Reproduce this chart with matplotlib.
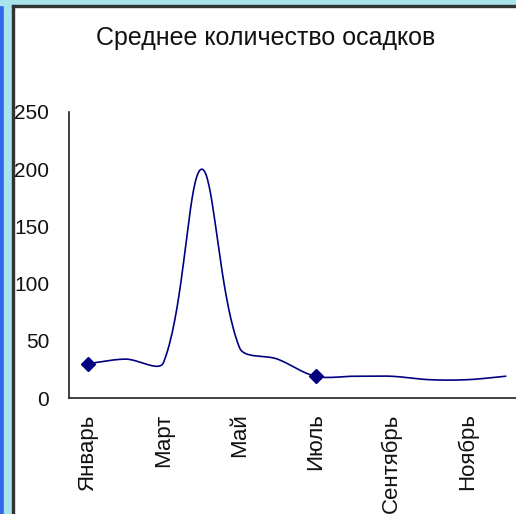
import numpy as np
import matplotlib.pyplot as plt
from matplotlib.patches import Rectangle

plt.rcParams['font.family'] = ['Liberation Sans', 'DejaVu Sans']

months = ['Январь', 'Февраль', 'Март', 'Апрель', 'Май', 'Июнь',
          'Июль', 'Август', 'Сентябрь', 'Октябрь', 'Ноябрь', 'Декабрь']
precip = [30, 34, 31, 200, 44, 34, 19, 19, 19, 16, 16, 19]
marked = [0, 6]  # Январь, Июль

W, H = 516, 514


def smooth_line(ax, xs, ys, n=40):
    # excel-like bezier smoothing, done in pixel space
    pts = ax.transData.transform(np.column_stack([xs, ys]))
    out = [pts[0]]
    for i in range(len(pts) - 1):
        p0 = pts[i - 1] if i > 0 else pts[i]
        p1, p2 = pts[i], pts[i + 1]
        p3 = pts[i + 2] if i + 2 < len(pts) else pts[i + 1]
        d01 = np.hypot(*(p1 - p0))
        d12 = np.hypot(*(p2 - p1))
        d23 = np.hypot(*(p3 - p2))
        c1 = p1 + (p2 - p0) * d12 / (d01 + d12) / 3
        c2 = p2 - (p3 - p1) * d12 / (d12 + d23) / 3
        t = np.linspace(0, 1, n)[1:, None]
        seg = ((1 - t) ** 3 * p1 + 3 * (1 - t) ** 2 * t * c1
               + 3 * (1 - t) * t ** 2 * c2 + t ** 3 * p2)
        out.extend(seg)
    out = ax.transData.inverted().transform(np.array(out))
    return out[:, 0], out[:, 1]


fig = plt.figure(figsize=(W / 100, H / 100), dpi=100)
fig.patch.set_facecolor('white')

# slide frame bits on the left and top
fig.patches.append(Rectangle((0, 0), 4 / W, 1, transform=fig.transFigure, color='#3566ee', zorder=0))
fig.patches.append(Rectangle((4 / W, 0), 8 / W, 1, transform=fig.transFigure, color='#a9e3ec', zorder=0))
fig.patches.append(Rectangle((0, 1 - 5 / H), 1, 5 / H, transform=fig.transFigure, color='#a9e3ec', zorder=0))
fig.patches.append(Rectangle((12 / W, 0), 1.5 / W, 1 - 5 / H, transform=fig.transFigure, color='#333333', zorder=1))
fig.patches.append(Rectangle((12 / W, 1 - 6.5 / H), 1, 1.5 / H, transform=fig.transFigure, color='#333333', zorder=1))

ax = fig.add_axes([68.5 / W, 116 / H, 456 / W, 286 / H])
ax.set_xlim(-0.5, 11.5)
ax.set_ylim(0, 250)

x = np.arange(len(months))
sx, sy = smooth_line(ax, x, precip)
ax.plot(sx, sy, color='#000080', lw=1.2, clip_on=False)
ax.plot(x[marked], np.array(precip)[marked], 'D', color='#000080', ms=7, clip_on=False)

for s in ['top', 'right']:
    ax.spines[s].set_visible(False)
for s in ['left', 'bottom']:
    ax.spines[s].set_color('#222222')
    ax.spines[s].set_linewidth(1.2)

ax.set_yticks([0, 50, 100, 150, 200, 250])
ax.set_xticks(x[::2])
ax.set_xticklabels(months[::2], rotation=90, va='top', ha='center')
ax.tick_params(axis='y', length=0, pad=14, labelsize=15, colors='#111111')
ax.tick_params(axis='x', length=0, pad=11, labelsize=16, colors='#111111')

fig.text(266 / W, 1 - 38 / H, 'Среднее количество осадков', ha='center', va='center',
         fontsize=18, color='#111111')

plt.savefig('out.png', dpi=100)
